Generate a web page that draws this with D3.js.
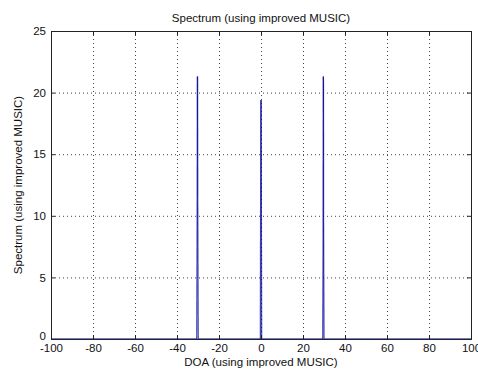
<!DOCTYPE html>
<html>
<head>
<meta charset="utf-8">
<script src="https://d3js.org/d3.v7.min.js"></script>
<style>
  body { margin: 0; background: #fff; }
  svg { display: block; font-family: "Liberation Sans", Arial, sans-serif; }
  .tick text { font-size: 11.5px; fill: #111; }
</style>
</head>
<body>
<svg id="chart" width="478" height="371"></svg>
<script>
// data
var doa = [-100, -30.6, -30.4, -30.3, -30.25, -30.2, -30.1, -29.9,
           -0.3, -0.1, 0, 0.05, 0.1, 0.3,
           29.4, 29.6, 29.7, 29.75, 29.8, 30.0, 100];
var spectrum = [0, 0, 9.7, 19.8, 21.3, 19.9, 9.6, 0,
                0, 17.5, 19.4, 18.7, 17.4, 0,
                0, 9.0, 21.3, 20.8, 9.1, 0, 0];
var xTicks = [-100, -80, -60, -40, -20, 0, 20, 40, 60, 80, 100];
var yTicks = [0, 5, 10, 15, 20, 25];

var margin = {top: 31, right: 7, bottom: 32, left: 51},
    width = 478 - margin.left - margin.right,
    height = 371 - margin.top - margin.bottom;

var svg = d3.select("#chart");
var g = svg.append("g")
    .attr("transform", "translate(" + margin.left + "," + margin.top + ")");

var x = d3.scaleLinear().domain([-100, 100]).range([0, width]);
var y = d3.scaleLinear().domain([0, 25]).range([height, 0]);
var plain = function(d) { return String(d); };

// grid
g.selectAll(".vgrid").data(xTicks.slice(1, -1)).enter().append("line")
    .attr("x1", function(d) { return x(d) + 0.5; })
    .attr("x2", function(d) { return x(d) + 0.5; })
    .attr("y1", 0).attr("y2", height)
    .attr("stroke", "#444").attr("stroke-dasharray", "1,3");
g.selectAll(".hgrid").data(yTicks.slice(1, -1)).enter().append("line")
    .attr("y1", function(d) { return y(d) + 0.5; })
    .attr("y2", function(d) { return y(d) + 0.5; })
    .attr("x1", 0).attr("x2", width)
    .attr("stroke", "#444").attr("stroke-dasharray", "1,3");

// spectrum, drawn segment by segment so overlaps read darker
var pts = doa.map(function(d, i) { return [d, spectrum[i]]; });
g.selectAll(".seg").data(d3.pairs(pts)).enter().append("line")
    .attr("x1", function(d) { return x(d[0][0]); })
    .attr("y1", function(d) { return y(d[0][1]); })
    .attr("x2", function(d) { return x(d[1][0]); })
    .attr("y2", function(d) { return y(d[1][1]); })
    .attr("stroke", "#00009a")
    .attr("stroke-opacity", 0.7)
    .attr("stroke-width", 1.3);

// axes
var xAxis = g.append("g")
    .attr("transform", "translate(0," + height + ")")
    .call(d3.axisBottom(x).tickValues(xTicks).tickSize(-4).tickPadding(5).tickFormat(plain));
var xTop = g.append("g")
    .call(d3.axisTop(x).tickValues(xTicks).tickSize(-4).tickFormat(""));
var yAxis = g.append("g")
    .call(d3.axisLeft(y).tickValues(yTicks).tickSize(-4).tickPadding(5).tickFormat(plain));
var yRight = g.append("g")
    .attr("transform", "translate(" + width + ",0)")
    .call(d3.axisRight(y).tickValues(yTicks).tickSize(-4).tickFormat(""));
[xAxis, xTop, yAxis, yRight].forEach(function(a) {
  a.select(".domain").attr("stroke", "#222");
  a.selectAll(".tick line").attr("stroke", "#222");
});
xAxis.selectAll(".tick text").attr("dy", "0.7em");
yAxis.selectAll(".tick text").filter(function(d) { return d === 0; }).attr("y", -3);

// titles
svg.append("text")
    .attr("x", margin.left + width / 2).attr("y", 22)
    .attr("text-anchor", "middle").attr("font-size", "11.5px").attr("fill", "#111")
    .text("Spectrum (using improved MUSIC)");
svg.append("text")
    .attr("x", margin.left + width / 2).attr("y", 366)
    .attr("text-anchor", "middle").attr("font-size", "11.5px").attr("fill", "#111")
    .text("DOA (using improved MUSIC)");
svg.append("text")
    .attr("transform", "translate(22," + (margin.top + height / 2) + ") rotate(-90)")
    .attr("text-anchor", "middle").attr("font-size", "11.5px").attr("fill", "#111")
    .text("Spectrum (using improved MUSIC)");
</script>
</body>
</html>
